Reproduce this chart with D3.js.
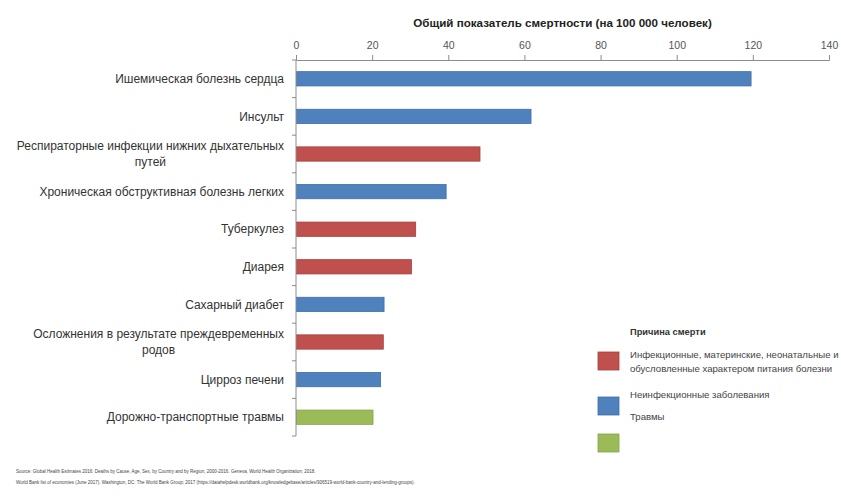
<!DOCTYPE html>
<html>
<head>
<meta charset="utf-8">
<script src="https://cdn.jsdelivr.net/npm/d3@7"></script>
<style>
  html, body { margin: 0; padding: 0; background: #fff; }
  svg { display: block; font-family: "Liberation Sans", Arial, sans-serif; }
</style>
</head>
<body>
<svg id="chart" width="841" height="504"></svg>
<script>
// Top causes of death, crude death rate per 100 000 population
const causes = [
  "Ишемическая болезнь сердца",
  "Инсульт",
  "Респираторные инфекции нижних дыхательных\nпутей",
  "Хроническая обструктивная болезнь легких",
  "Туберкулез",
  "Диарея",
  "Сахарный диабет",
  "Осложнения в результате преждевременных\nродов",
  "Цирроз печени",
  "Дорожно-транспортные травмы"
];
const rates = [119.4, 61.6, 48.2, 39.3, 31.3, 30.2, 23.0, 22.8, 22.1, 20.1];
const groups = ["ncd", "ncd", "comm", "ncd", "comm", "comm", "ncd", "comm", "ncd", "inj"];

const groupKeys = ["comm", "ncd", "inj"];
const groupLabels = [
  "Инфекционные, материнские, неонатальные и\nобусловленные характером питания болезни",
  "Неинфекционные заболевания",
  "Травмы"
];
const groupColors = ["#c0504d", "#4f81bd", "#9bbb59"];
const groupStrokes = ["#a5403d", "#3d6ea8", "#86a34a"];

const xTicks = [0, 20, 40, 60, 80, 100, 120, 140];
const axisTitle = "Общий показатель смертности (на 100 000 человек)";
const legendTitle = "Причина смерти";
const sources = [
  "Source: Global Health Estimates 2016: Deaths by Cause, Age, Sex, by Country and by Region, 2000-2016. Geneva, World Health Organization; 2018.",
  "World Bank list of economies (June 2017). Washington, DC: The World Bank Group; 2017 (https://datahelpdesk.worldbank.org/knowledgebase/articles/906519-world-bank-country-and-lending-groups)."
];

const svg = d3.select("#chart");
const plot = { left: 296, right: 829, top: 60, bottom: 436 };

const x = d3.scaleLinear().domain([0, 140]).range([plot.left, plot.right]);
const y = d3.scaleBand().domain(d3.range(causes.length)).range([plot.top, plot.bottom]).paddingInner(0.62).paddingOuter(0.31);
const color = d3.scaleOrdinal().domain(groupKeys).range(groupColors);
const stroke = d3.scaleOrdinal().domain(groupKeys).range(groupStrokes);

// Bars
svg.append("g").selectAll("rect")
  .data(rates)
  .join("rect")
  .attr("x", x(0) + 0.5)
  .attr("y", (d, i) => y(i))
  .attr("width", d => x(d) - x(0))
  .attr("height", y.bandwidth())
  .attr("fill", (d, i) => color(groups[i]))
  .attr("stroke", (d, i) => stroke(groups[i]))
  .attr("stroke-width", 0.8);

// Top value axis
const xAxis = svg.append("g")
  .attr("transform", `translate(0,${plot.top})`)
  .call(d3.axisTop(x).tickValues(xTicks).tickSize(5).tickPadding(6).tickFormat(d3.format("d")));
xAxis.select(".domain").attr("stroke", "#8c8c8c");
xAxis.selectAll(".tick line").attr("stroke", "#8c8c8c");
xAxis.selectAll(".tick text").attr("fill", "#555").attr("font-size", 10.5);

svg.append("text")
  .attr("x", (plot.left + plot.right) / 2)
  .attr("y", 27)
  .attr("text-anchor", "middle")
  .attr("font-size", 11.6)
  .attr("font-weight", "bold")
  .attr("fill", "#222")
  .text(axisTitle);

// Category axis: line with ticks between categories
const yBounds = d3.range(causes.length + 1).map(i => plot.top + i * (plot.bottom - plot.top) / causes.length);
svg.append("line")
  .attr("x1", plot.left).attr("x2", plot.left)
  .attr("y1", plot.top).attr("y2", plot.bottom)
  .attr("stroke", "#8c8c8c");
svg.append("g").selectAll("line")
  .data(yBounds)
  .join("line")
  .attr("x1", plot.left - 4).attr("x2", plot.left)
  .attr("y1", d => d).attr("y2", d => d)
  .attr("stroke", "#8c8c8c");

// Category labels (wrapped ones have their second line centred under the first)
const lineH = 16.5;
const labelRight = 284;
const labels = svg.append("g").selectAll("text")
  .data(causes)
  .join("text")
  .attr("font-size", 12)
  .attr("fill", "#333")
  .each(function (d, i) {
    const lines = d.split("\n");
    const cy = y(i) + y.bandwidth() / 2;
    const t = d3.select(this);
    lines.forEach((ln, k) => {
      t.append("tspan")
        .attr("x", labelRight)
        .attr("y", cy + (k - (lines.length - 1) / 2) * lineH)
        .attr("dy", "0.35em")
        .attr("text-anchor", k === 0 ? "end" : "middle")
        .text(ln);
    });
  });
labels.each(function () {
  const sp = d3.select(this).selectAll("tspan").nodes();
  if (sp.length === 2) {
    const w = sp[0].getComputedTextLength();
    d3.select(sp[1]).attr("x", labelRight - w / 2);
  }
});

// Legend
const lg = svg.append("g");
lg.append("text")
  .attr("x", 630).attr("y", 335)
  .attr("font-size", 9.3)
  .attr("font-weight", "bold")
  .attr("fill", "#333")
  .text(legendTitle);

const swatchY = [352, 397, 434];
const labelY = [[358, 372], [398], [420]];
groupKeys.forEach((k, i) => {
  lg.append("rect")
    .attr("x", 598).attr("y", swatchY[i])
    .attr("width", 21).attr("height", 18)
    .attr("fill", color(k))
    .attr("stroke", stroke(k))
    .attr("stroke-width", 0.8);
  groupLabels[i].split("\n").forEach((ln, j) => {
    lg.append("text")
      .attr("x", 630).attr("y", labelY[i][j])
      .attr("font-size", 9.6)
      .attr("fill", "#444")
      .text(ln);
  });
});

// Sources
svg.append("g").selectAll("text")
  .data(sources)
  .join("text")
  .attr("x", 16)
  .attr("y", (d, i) => 473 + i * 10.5)
  .attr("font-size", 4.5)
  .attr("fill", "#444")
  .text(d => d);
</script>
</body>
</html>
